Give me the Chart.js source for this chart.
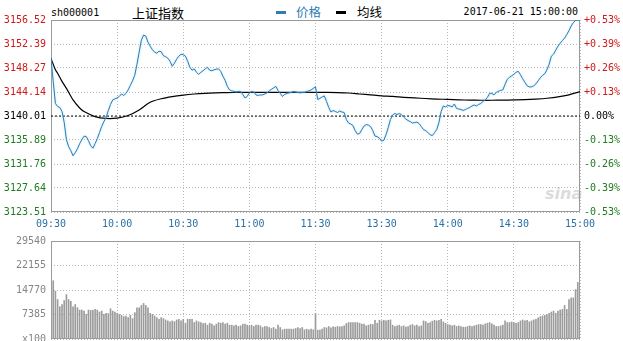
<!DOCTYPE html>
<html><head><meta charset="utf-8">
<script src="https://cdn.jsdelivr.net/npm/chart.js@4.4.1/dist/chart.umd.min.js"></script>
<style>
html,body{margin:0;padding:0;background:#fff;overflow:hidden;width:623px;height:341px;}
#wrap{position:relative;width:623px;height:341px;overflow:hidden;}
canvas{position:absolute;left:0;}
.t{position:absolute;white-space:nowrap;line-height:1;}
.mono{font-family:"DejaVu Sans Mono",monospace;font-size:10px;color:#000;}
.cjk{font-family:"Noto Sans CJK SC",sans-serif;}
.dash{position:absolute;width:10px;height:3px;}
</style></head>
<body><div id="wrap">
<span class="t mono" style="left:51px;top:8px;">sh000001</span>
<span class="t cjk" style="left:132px;top:6px;font-size:13px;color:#000;">上证指数</span>
<span class="dash" style="left:276px;top:11px;background:#2e7cb3;"></span>
<span class="t cjk" style="left:296px;top:6px;font-size:12.5px;color:#2e7cb3;">价格</span>
<span class="dash" style="left:336px;top:11px;background:#000;"></span>
<span class="t cjk" style="left:357px;top:6px;font-size:12.5px;color:#000;">均线</span>
<span class="t mono" style="right:45px;top:7px;">2017-06-21 15:00:00</span>
<span class="t" style="left:545px;top:186px;font-family:'DejaVu Sans',sans-serif;font-weight:bold;font-style:italic;font-size:16px;color:#dcdcdc;">sina</span>
<canvas id="c1" width="623" height="232" style="top:0;"></canvas>
<canvas id="c2" width="623" height="120" style="top:230px;"></canvas>
</div>
<script>
// ---- data ----
const timeLabels = ['09:30','10:00','10:30','11:00','11:30','13:30','14:00','14:30','15:00'];
const prevClose = 3140.01;
const priceTicks = [3123.51, 3127.64, 3131.76, 3135.89, 3140.01, 3144.14, 3148.27, 3152.39, 3156.52];
const pctLabels = ['-0.53%','-0.39%','-0.26%','-0.13%','0.00%','+0.13%','+0.26%','+0.39%','+0.53%'];
const volTicks = [0, 7385, 14770, 22155, 29540];
const volLabels = ['x100', '7385', '14770', '22155', '29540'];

// price per minute (index 0 = 09:30, 120 = 11:30/13:00, 240 = 15:00)
const prices = [
3149.90,3145.97,3142.17,3141.65,3141.48,3140.79,3138.89,3135.95,3134.74,3134.05,
3133.18,3133.70,3134.39,3135.26,3135.95,3136.55,3136.47,3135.78,3134.91,3134.48,
3135.26,3136.12,3137.16,3138.20,3139.06,3139.75,3140.96,3142.00,3142.78,3142.95,
3143.12,3143.38,3143.81,3143.55,3143.90,3144.50,3145.28,3146.06,3147.01,3148.91,
3150.99,3153.06,3153.93,3153.75,3152.72,3152.02,3151.42,3150.99,3150.81,3151.16,
3151.07,3150.38,3150.21,3149.95,3149.43,3148.57,3149.09,3149.78,3150.30,3150.64,
3150.55,3150.30,3149.43,3148.39,3147.88,3148.13,3147.53,3147.18,3147.53,3147.79,
3148.13,3148.39,3147.88,3147.79,3147.96,3148.05,3148.13,3147.70,3146.84,3146.15,
3145.11,3144.50,3144.33,3144.25,3144.16,3144.25,3144.25,3143.73,3143.12,3143.38,
3143.99,3144.25,3144.16,3143.64,3143.55,3143.64,3143.64,3143.81,3143.99,3144.33,
3144.59,3144.85,3145.11,3144.42,3143.90,3143.38,3143.73,3143.90,3143.99,3144.07,
3144.25,3144.16,3144.07,3143.99,3144.07,3144.07,3144.25,3144.33,3144.50,3144.76,
3145.02,3142.86,3143.04,3143.29,3143.47,3142.52,3141.48,3140.70,3140.96,3140.79,
3140.62,3140.87,3140.70,3140.62,3139.41,3138.80,3138.63,3138.37,3137.50,3136.90,
3136.99,3137.68,3138.28,3138.54,3138.45,3138.20,3137.50,3136.55,3136.47,3136.21,
3135.69,3135.86,3136.81,3138.02,3139.41,3140.18,3140.44,3140.27,3140.44,3140.27,
3139.84,3139.49,3139.23,3139.06,3138.80,3138.89,3138.97,3138.71,3138.20,3137.68,
3137.50,3137.16,3136.81,3136.64,3137.16,3137.68,3138.89,3140.79,3141.74,3141.57,
3141.83,3141.74,3141.57,3142.08,3141.31,3141.22,3141.13,3140.96,3141.13,3141.31,
3141.48,3141.74,3141.91,3141.74,3142.00,3142.17,3142.52,3142.78,3143.21,3143.90,
3143.90,3143.64,3144.07,3144.25,3144.42,3144.50,3145.46,3146.32,3146.67,3146.92,
3147.18,3147.53,3147.70,3147.10,3146.41,3145.80,3145.20,3145.02,3145.02,3145.20,
3145.54,3146.06,3146.58,3147.01,3147.27,3147.96,3148.91,3150.30,3150.64,3151.33,
3152.02,3152.54,3152.97,3153.41,3154.01,3154.70,3155.48,3156.09,3156.43,3156.52,3156.52
];

// average line, read at these minutes
const avgMinutes = [0,1,2,3,4,5,7,10,13,15,20,25,30,35,40,45,50,55,60,65,70,75,80,85,90,95,100,105,110,115,120,
  125,130,135,140,145,150,155,160,165,170,175,180,185,190,195,200,205,210,215,220,225,230,235,240];
const avgValues = [3149.90,3148.91,3147.96,3147.36,3146.67,3145.97,3144.76,3142.78,3141.39,3140.79,3139.92,
  3139.60,3139.66,3140.10,3141.05,3142.38,3142.98,3143.35,3143.61,3143.80,3143.92,3143.99,3144.04,3144.07,
  3144.08,3144.08,3144.08,3144.07,3144.07,3144.07,3144.07,3144.07,3144.05,3143.97,3143.80,3143.64,3143.48,
  3143.38,3143.23,3143.12,3143.02,3142.93,3142.86,3142.79,3142.74,3142.72,3142.72,3142.74,3142.78,3142.83,
  3142.93,3143.07,3143.29,3143.65,3144.20];

// volume per minute (axis units, x100)
const volumes = [
16000,17550,14370,11900,9730,10410,11600,13390,11900,11390,
9730,10410,9420,8720,8720,8420,7440,8720,8620,8620,
8920,8720,8130,8420,7440,7740,7640,9130,8420,8130,
7740,7440,7140,6750,6940,6450,7140,6150,7940,9420,
9420,10120,10710,10120,9420,7740,7440,6940,6450,5950,
6450,6150,5750,5450,5150,5450,5250,5750,5950,5450,
5950,4760,5950,5950,5950,4960,5450,5150,4960,4660,
4760,4170,4760,4460,3970,4460,4960,4760,4960,4460,
4760,4170,4170,3970,4170,3770,3970,4460,4460,4170,
3970,4170,3770,4170,4170,3970,3470,3770,3770,3470,
3170,3470,2975,4170,3470,2770,2975,2975,2975,2975,
2975,3170,3470,3170,3470,2770,2975,2770,2975,2770,
7640,
2680,2680,2975,3470,3370,3770,3370,3670,3570,
3770,3670,3770,3970,4660,4960,4960,4960,4960,4960,
4760,4460,4460,3970,4170,4460,4360,5650,4760,5650,
5450,5650,5450,5650,5750,4170,3770,3970,4170,3770,
3970,3570,3770,4170,4360,3970,4170,3770,3970,5450,
5260,4760,4960,5360,5650,5450,5650,5950,5160,4760,
4360,4170,3970,4170,3770,3970,3770,3570,3570,3770,
3970,3770,3970,4170,4360,4360,4170,4560,4760,4960,
4560,4170,3770,3770,3970,4170,5450,4960,4960,5160,
4960,4760,4960,5450,5750,5450,5650,5160,5450,5750,
5950,6350,6750,6940,7140,7340,7740,8130,8430,7740,
8430,8730,8930,10120,8930,11900,12400,12400,14880,17060,
17060
];

// ---- styling ----
const MONO = "'DejaVu Sans Mono', monospace";
const RED = '#d01818', GREEN = '#1f7d1f', BLUE = '#2e7cb3', TBLUE = '#2b71a6';
const GRID = '#b8b8b8';

const boxPlugin = {
  id: 'box',
  beforeDatasetsDraw(chart) {
    const { ctx, chartArea: a } = chart;
    ctx.save();
    ctx.strokeStyle = '#9a9a9a';
    ctx.lineWidth = 1;
    ctx.strokeRect(Math.round(a.left) + 0.5, Math.round(a.top) + 0.5,
      Math.round(a.right - a.left) - 1, Math.round(a.bottom - a.top) - 1);
    ctx.restore();
  }
};
const glowPlugin = {
  id: 'glow',
  beforeDatasetDraw(chart, args) {
    if (chart.canvas.id === 'c1' && args.index === 0) {
      chart.ctx.save();
      chart.ctx.shadowColor = 'rgba(140,210,245,0.9)';
      chart.ctx.shadowBlur = 2;
    }
  },
  afterDatasetDraw(chart, args) {
    if (chart.canvas.id === 'c1' && args.index === 0) chart.ctx.restore();
  }
};

const priceData = prices.map((v, i) => ({ x: i, y: v }));
const avgData = avgMinutes.map((m, k) => ({ x: m, y: avgValues[k] }));

new Chart(document.getElementById('c1'), {
  type: 'line',
  data: {
    datasets: [
      { label: '价格', data: priceData, borderColor: BLUE, borderWidth: 1, pointRadius: 0, tension: 0 },
      { label: '均线', data: avgData, borderColor: '#000', borderWidth: 1.2, pointRadius: 0, tension: 0.3 },
      { label: 'prev', data: [{ x: 0, y: prevClose }, { x: 240, y: prevClose }], borderColor: '#000',
        borderWidth: 1, borderDash: [2, 2], pointRadius: 0 }
    ]
  },
  options: {
    responsive: false, animation: false, devicePixelRatio: 1,
    layout: { padding: { top: 20, left: 0, right: 0, bottom: 0 } },
    plugins: { legend: { display: false }, tooltip: { enabled: false } },
    scales: {
      x: {
        type: 'linear', min: 0, max: 240,
        afterFit: (s) => { s.height = 20; },
        ticks: { stepSize: 30, autoSkip: false, maxRotation: 0, padding: 6, color: TBLUE,
          font: { family: MONO, size: 10 }, callback: (v) => timeLabels[v / 30] },
        grid: { color: GRID, drawTicks: false },
        border: { display: false, dash: [1, 2] }
      },
      y: {
        position: 'left', min: priceTicks[0], max: priceTicks[priceTicks.length - 1],
        afterFit: (s) => { s.width = 51; },
        afterBuildTicks: (s) => { s.ticks = priceTicks.map(v => ({ value: v })); },
        ticks: { padding: 5, font: { family: MONO, size: 10 },
          color: (c) => c.index > 4 ? RED : (c.index < 4 ? GREEN : '#000'),
          callback: (v) => v.toFixed(2) },
        grid: { color: GRID, drawTicks: false },
        border: { display: false, dash: [1, 2] }
      },
      y2: {
        position: 'right', min: priceTicks[0], max: priceTicks[priceTicks.length - 1],
        afterFit: (s) => { s.width = 43; },
        afterBuildTicks: (s) => { s.ticks = priceTicks.map(v => ({ value: v })); },
        ticks: { padding: 4, font: { family: MONO, size: 10 },
          color: (c) => c.index > 4 ? RED : (c.index < 4 ? GREEN : '#000'),
          callback: (v, i) => pctLabels[i] },
        grid: { drawOnChartArea: false, drawTicks: false },
        border: { display: false }
      }
    }
  },
  plugins: [boxPlugin, glowPlugin]
});

new Chart(document.getElementById('c2'), {
  type: 'bar',
  data: {
    datasets: [
      { label: '成交量', data: volumes.map((v, i) => ({ x: i, y: v })), backgroundColor: '#9c9c9c',
        barThickness: 1, borderWidth: 0 }
    ]
  },
  options: {
    responsive: false, animation: false, devicePixelRatio: 1,
    layout: { padding: { top: 10, left: 0, right: 43, bottom: 10 } },
    plugins: { legend: { display: false }, tooltip: { enabled: false } },
    scales: {
      x: {
        type: 'linear', min: 0, max: 240, offset: false,
        afterFit: (s) => { s.height = 0; },
        ticks: { stepSize: 30, display: false },
        grid: { color: GRID, drawTicks: false, offset: false },
        border: { display: false, dash: [1, 2] }
      },
      y: {
        min: 0, max: volTicks[volTicks.length - 1],
        afterFit: (s) => { s.width = 51; },
        afterBuildTicks: (s) => { s.ticks = volTicks.map(v => ({ value: v })); },
        ticks: { padding: 5, color: '#858585', font: { family: MONO, size: 10 },
          callback: (v, i) => volLabels[i] },
        grid: { color: GRID, drawTicks: false },
        border: { display: false, dash: [1, 2] }
      }
    }
  },
  plugins: [boxPlugin]
});
</script>
</body></html>
